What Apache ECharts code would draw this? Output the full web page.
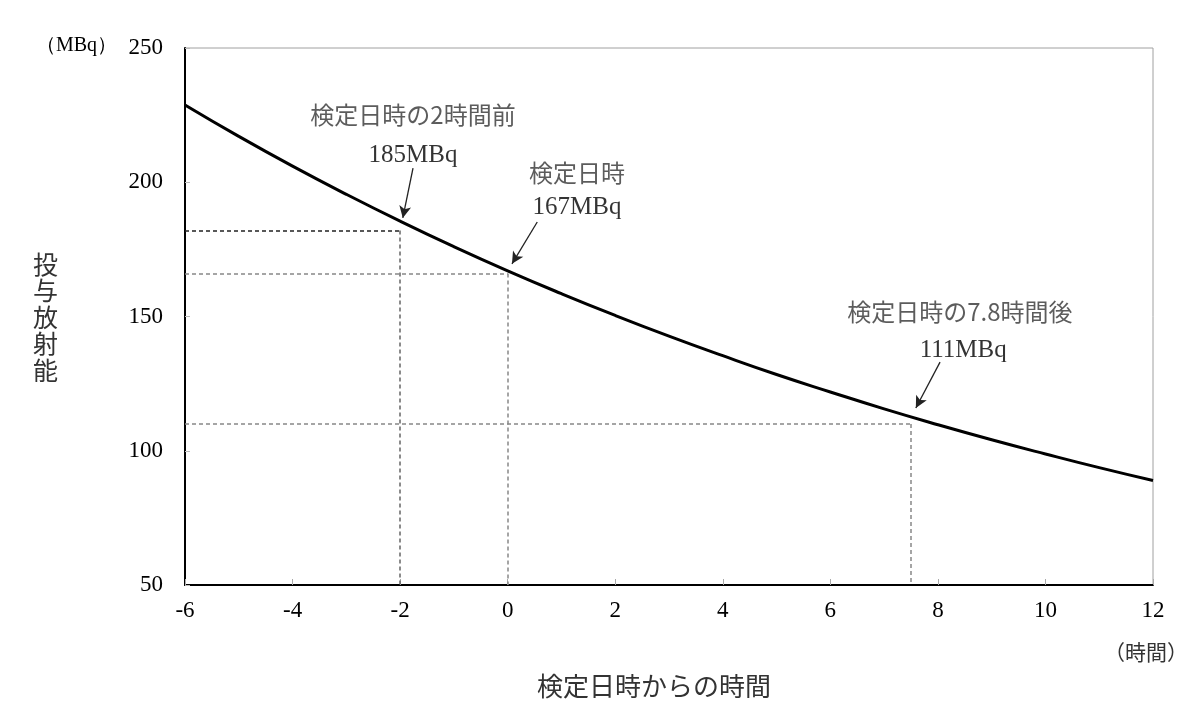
<!DOCTYPE html>
<html><head><meta charset="utf-8">
<script src="https://cdn.jsdelivr.net/npm/echarts@6/dist/echarts.min.js"></script>
<style>html,body{margin:0;padding:0;background:#fff}#c{width:1200px;height:717px}</style>
</head><body><div id="c"></div>
<script>
// Data
var hours = [-6,-5,-4,-3,-2,-1,0,1,2,3,4,5,6,7,8,9,10,11,12];
var activity = [228.8,217.1,206.0,195.5,185.5,176.0,167.0,158.5,150.4,142.7,135.4,128.4,121.9,115.6,109.7,104.1,98.8,93.7,88.9];
var xTicks = [-6,-4,-2,0,2,4,6,8,10,12];
var yTicks = [50,100,150,200,250];
// Guide lines: [x, y] points
var guides = [[-2,182],[0,166],[7.5,110]];
// Annotation captions
var captionText = ['検定日時の2時間前','検定日時','検定日時の7.8時間後'];
var captionPos = [[-1.76,225.0],[1.29,203.4],[8.41,151.7]];
var valueText = ['185MBq','167MBq','111MBq'];
var valuePos = [[-1.76,210.1],[1.29,190.8],[8.47,137.5]];
// Arrows: [from, to]
var arrows = [[[-1.76,205.3],[-1.95,186.7]],[[0.55,185.2],[0.08,169.6]],[[8.04,133.0],[7.59,115.9]]];

var chart = echarts.init(document.getElementById('c'));
var serif = '"Liberation Serif","Times New Roman",serif';
var jp = '"Noto Sans CJK JP",sans-serif';

var guideLines = [];
guides.forEach(function(g,i){
  var col = i===0 ? '#222' : '#888';
  guideLines.push([{coord:[-6,g[1]],lineStyle:{color:col}},{coord:[g[0],g[1]]}]);
  guideLines.push([{coord:[g[0],g[1]],lineStyle:{color:i===0?'#666':'#888'}},{coord:[g[0],50]}]);
});
var arrowLines = arrows.map(function(a){return [{coord:a[0]},{coord:a[1]}];});

chart.setOption({
  animation:false,
  grid:{left:185,right:47,top:48,bottom:132,show:true,borderColor:'#a0a0a0',borderWidth:1},
  xAxis:{type:'value',min:-6,max:12,interval:2,
    axisLine:{show:true,onZero:false,lineStyle:{color:'#000',width:2}},
    axisTick:{show:true,inside:true,length:6,lineStyle:{color:'#aaa'}},
    splitLine:{show:false},
    axisLabel:{margin:14,color:'#000',fontFamily:serif,fontSize:23,
      formatter:function(v){return xTicks.indexOf(v)>=0?String(v):'';}}},
  yAxis:{type:'value',min:50,max:250,interval:50,
    axisLine:{show:true,onZero:false,lineStyle:{color:'#000',width:2}},
    axisTick:{show:true,inside:true,length:5,lineStyle:{color:'#bbb'}},
    splitLine:{show:false},
    axisLabel:{margin:22,color:'#000',fontFamily:serif,fontSize:23,
      formatter:function(v){return yTicks.indexOf(v)>=0?String(v):'';}}},
  series:[
    {type:'line',data:hours.map(function(h,i){return [h,activity[i]];}),smooth:true,showSymbol:false,
      lineStyle:{color:'#000',width:3},z:5,
      markLine:{silent:true,symbol:['none','none'],animation:false,
        lineStyle:{type:[4,3],width:1.5,color:'#888'},label:{show:false},data:guideLines}},
    {type:'line',data:[],
      markLine:{silent:true,symbol:['none','arrow'],symbolSize:[9,12],animation:false,
        lineStyle:{type:'solid',width:1.3,color:'#222'},label:{show:false},data:arrowLines}},
    {type:'scatter',symbolSize:0,silent:true,
      data:captionPos.map(function(p,i){return {value:p,name:captionText[i]};}),
      label:{show:true,position:'inside',formatter:'{b}',color:'#333',fontFamily:jp,fontSize:24}},
    {type:'scatter',symbolSize:0,silent:true,
      data:valuePos.map(function(p,i){return {value:p,name:valueText[i]};}),
      label:{show:true,position:'inside',formatter:'{b}',color:'#000',fontFamily:serif,fontSize:25}}
  ],
  graphic:[
    {type:'text',left:36,top:36,style:{text:'（MBq）',font:'20px '+serif,fill:'#000'}},
    {type:'text',left:33,top:251,style:{text:'投\n与\n放\n射\n能',font:'25px '+jp,fill:'#333',lineHeight:26.5}},
    {type:'text',left:1104,top:642,style:{text:'（時間）',font:'21px '+jp,fill:'#333'}},
    {type:'text',left:537,top:673,style:{text:'検定日時からの時間',font:'26px '+jp,fill:'#333'}}
  ]
});
</script></body></html>
